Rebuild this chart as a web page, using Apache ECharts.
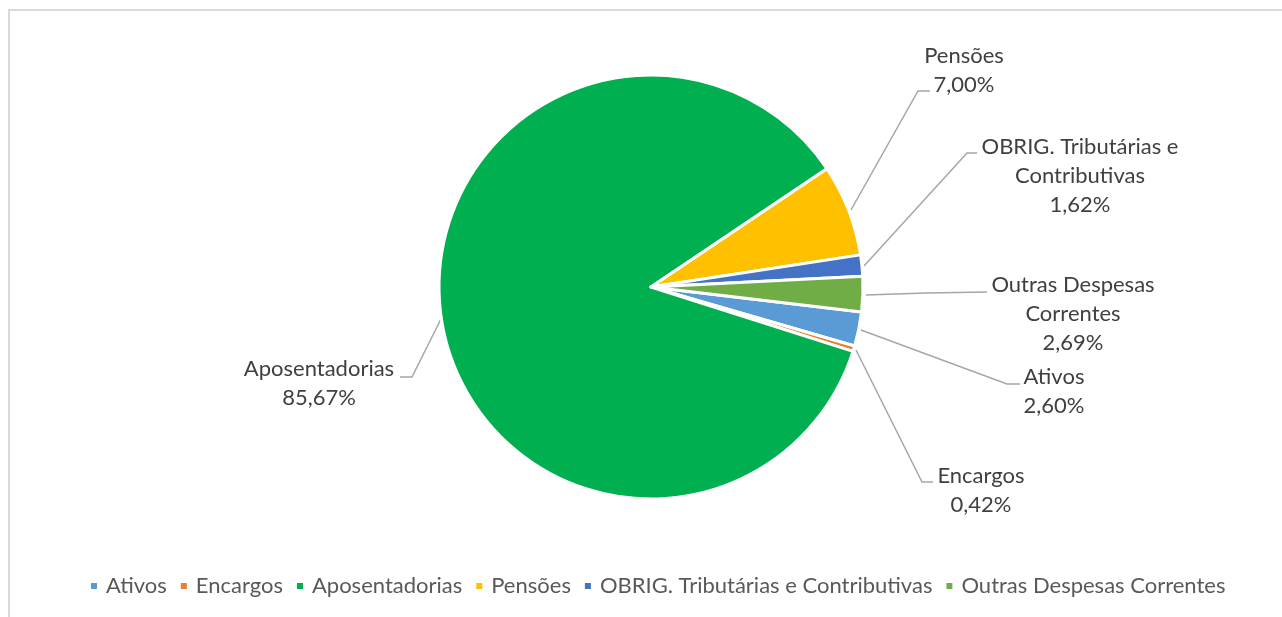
<!DOCTYPE html>
<html>
<head>
<meta charset="utf-8">
<script src="https://cdn.jsdelivr.net/npm/echarts@6/dist/echarts.min.js"></script>
<style>
html,body{margin:0;padding:0;background:#fff;}
#chart{width:1282px;height:617px;}
</style>
</head>
<body>
<div id="chart"></div>
<script>
const categories = ['Ativos', 'Encargos', 'Aposentadorias', 'Pensões', 'OBRIG. Tributárias e Contributivas', 'Outras Despesas Correntes'];
const labelNames = ['Ativos', 'Encargos', 'Aposentadorias', 'Pensões', 'OBRIG. Tributárias e\nContributivas', 'Outras Despesas\nCorrentes'];
const values = [2.60, 0.42, 85.67, 7.00, 1.62, 2.69];
const colors = ['#5B9BD5', '#ED7D31', '#00B050', '#FFC000', '#4472C4', '#70AD47'];

const FONT = 'Lato, "Open Sans", sans-serif';
// label placement (text center) and leader line points, per index
const labelPlace = [
  {x: 1054, y: 391, line: [[861, 330], [1007, 384], [1020, 384]]},
  {x: 981, y: 490, line: [[856, 350], [922, 482], [933, 482]]},
  {x: 319, y: 383, line: [[442, 317], [412, 377], [400, 377]]},
  {x: 964, y: 70, line: [[851, 210], [918, 91], [930, 91]]},
  {x: 1080, y: 176, line: [[864, 266], [967, 153], [977, 153]]},
  {x: 1073, y: 314, line: [[866, 295], [926, 293], [987, 292]]}
];

const chart = echarts.init(document.getElementById('chart'), null, {renderer: 'canvas'});
const total = values.reduce((a, b) => a + b, 0);
chart.setOption({
  animation: false,
  color: colors,
  graphic: [{
    type: 'rect', shape: {x: 9, y: 10, width: 1400, height: 800},
    style: {fill: 'none', stroke: '#d9d9d9', lineWidth: 2}, silent: true, z: -1
  }],
  legend: {
    data: categories,
    bottom: 15,
    left: 84,
    icon: 'rect',
    itemWidth: 8,
    itemHeight: 8,
    itemGap: 12,
    textStyle: {color: '#595959', fontSize: 22, fontFamily: FONT, padding: [0, 0, 0, 3]}
  },
  series: [{
    type: 'pie',
    center: [651, 287],
    radius: [0, 212],
    startAngle: -6.8,
    clockwise: true,
    avoidLabelOverlap: false,
    data: categories.map((c, i) => ({name: c, value: values[i]})),
    itemStyle: {borderColor: '#ffffff', borderWidth: 3},
    label: {
      show: true,
      position: 'outside',
      formatter: p => labelNames[p.dataIndex] + '\n' + (p.value / total * 100).toFixed(2).replace('.', ',') + '%',
      color: '#404040',
      fontSize: 22,
      lineHeight: 29,
      fontFamily: FONT,
      align: 'center'
    },
    labelLine: {show: true, lineStyle: {color: '#a6a6a6', width: 1.5}},
    labelLayout: function (params) {
      const p = labelPlace[params.dataIndex];
      return {x: p.x, y: p.y, align: 'center', verticalAlign: 'middle', labelLinePoints: p.line};
    }
  }]
});
</script>
</body>
</html>
